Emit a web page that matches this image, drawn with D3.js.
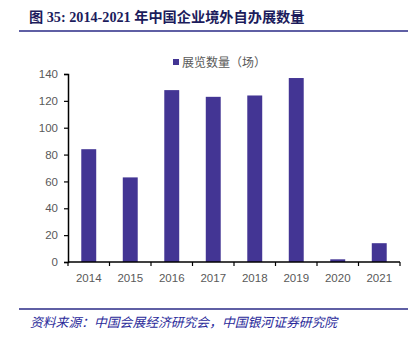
<!DOCTYPE html>
<html><head><meta charset="utf-8">
<script src="https://cdn.jsdelivr.net/npm/d3@7/dist/d3.min.js"></script>
<style>body{margin:0;background:#fff}svg{display:block}</style>
</head><body>
<script>
const years = ["2014","2015","2016","2017","2018","2019","2020","2021"];
const exhibitions = [84, 63, 128, 123, 124, 137, 2, 14];
const yTicks = [0,20,40,60,80,100,120,140];
const seriesName = "展览数量（场）";
const titleText = "图 35:  2014-2021 年中国企业境外自办展数量";
const sourceText = "资料来源：中国会展经济研究会，中国银河证券研究院";

const W = 417, H = 347;
const svg = d3.select("body").append("svg").attr("width", W).attr("height", H);

const navy = "#2a2a86";
const barColor = "#433594";

// title
svg.append("text").attr("x", 29).attr("y", 22)
  .attr("font-family", "'Liberation Serif','Noto Sans CJK SC',serif")
  .attr("font-weight", "bold").attr("font-size", 14.2).attr("fill", "#1c1c5c")
  .text(titleText);
svg.append("line").attr("x1", 19).attr("x2", 408).attr("y1", 31).attr("y2", 31)
  .attr("stroke", navy).attr("stroke-width", 1.5);

const x = d3.scaleBand().domain(years).range([68, 400]).paddingInner(0.64).paddingOuter(0.32);
const y = d3.scaleLinear().domain([0, 140]).range([262, 74]);

// bars
svg.append("g").selectAll("rect").data(exhibitions).join("rect")
  .attr("x", (d, i) => x(years[i]))
  .attr("y", d => y(d))
  .attr("width", x.bandwidth())
  .attr("height", d => y(0) - y(d))
  .attr("fill", barColor);

// y axis
const yAxis = svg.append("g").attr("transform", "translate(68,0)")
  .call(d3.axisLeft(y).tickValues(yTicks).tickSize(4).tickPadding(6));
yAxis.select(".domain").attr("stroke", "#000").attr("stroke-width", 1.5);
yAxis.selectAll(".tick line").attr("stroke", "#000").attr("stroke-width", 1.2);
yAxis.selectAll("text").attr("font-family", "'Liberation Sans',Arial,sans-serif")
  .attr("font-size", 11.5).attr("fill", "#595959");

// x axis with ticks at band boundaries
const xAxisG = svg.append("g").attr("transform", "translate(0,262)");
xAxisG.append("line").attr("x1", 68).attr("x2", 400).attr("y1", 0).attr("y2", 0)
  .attr("stroke", "#000").attr("stroke-width", 1.5);
const step = x.step();
const boundaries = d3.range(years.length + 1).map(i => x.range()[0] + i * step);
xAxisG.selectAll(".bt").data(boundaries).join("line")
  .attr("x1", d => d).attr("x2", d => d).attr("y1", 0).attr("y2", 4)
  .attr("stroke", "#000").attr("stroke-width", 1.2);
xAxisG.selectAll(".xl").data(years).join("text")
  .attr("x", d => x(d) + x.bandwidth() / 2).attr("y", 20)
  .attr("text-anchor", "middle")
  .attr("font-family", "'Liberation Sans',Arial,sans-serif")
  .attr("font-size", 11.5).attr("fill", "#595959")
  .text(d => d);

// legend
svg.append("rect").attr("x", 173).attr("y", 59).attr("width", 6).attr("height", 6).attr("fill", barColor);
svg.append("text").attr("x", 182).attr("y", 66.5)
  .attr("font-family", "'Noto Sans CJK SC',sans-serif").attr("font-size", 12).attr("fill", "#595959")
  .text(seriesName);

// bottom line & source
svg.append("line").attr("x1", 19).attr("x2", 408).attr("y1", 309).attr("y2", 309)
  .attr("stroke", navy).attr("stroke-width", 1.5);
svg.append("text").attr("x", 30).attr("y", 327)
  .attr("font-family", "'Noto Sans CJK SC',sans-serif").attr("font-style", "italic")
  .attr("font-size", 12.8).attr("fill", "#2a2a9a")
  .text(sourceText);
</script>
</body></html>
